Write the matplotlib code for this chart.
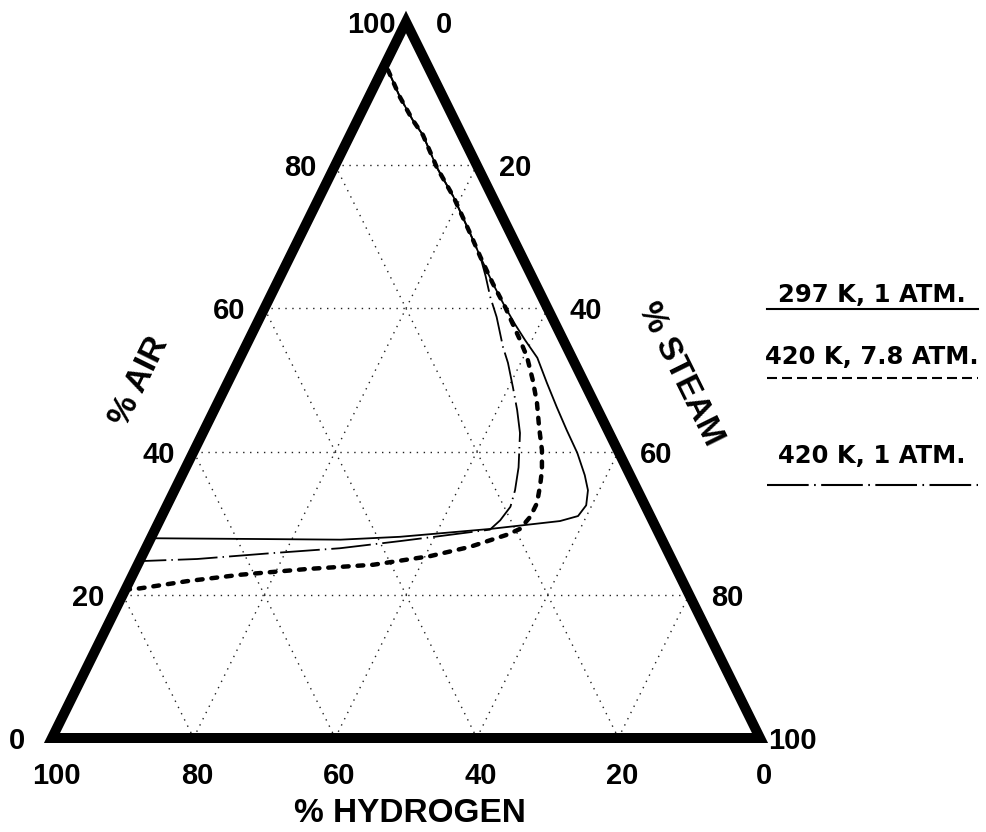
import matplotlib
matplotlib.use("Agg")
import matplotlib.pyplot as plt
from matplotlib.patches import Polygon
from matplotlib.transforms import Affine2D

# ---------------- data (ternary compositions, percent) ----------------
# 297 K, 1 ATM (solid)
solid_air = [93.3, 89.5, 86.3, 84.2, 79.7, 75.6, 70.5, 67.2, 63.5, 60.1, 57.7, 55.6,
             53.1, 49.6, 46.2, 43.0, 39.8, 36.7, 34.6, 32.5, 31.0, 30.3, 29.2, 28.1,
             27.7, 27.8, 27.9]
solid_steam = [0.8, 4.4, 7.8, 10.3, 14.5, 18.9, 23.8, 26.9, 30.5, 34.0, 36.6, 39.0,
               42.0, 45.1, 48.2, 51.2, 54.3, 56.9, 58.4, 59.2, 58.8, 56.6, 47.3, 35.1,
               26.9, 14.1, 0.0]

# 420 K, 7.8 ATM (heavy dashed)
dashed_air = [93.3, 89.5, 86.3, 84.2, 79.7, 75.6, 70.5, 67.2, 63.5, 60.1, 58.1, 55.6,
              53.2, 50.0, 46.8, 43.4, 40.2, 37.4, 35.3, 32.8, 30.9, 29.2, 28.4, 26.7,
              25.4, 24.2, 23.6, 22.8, 21.9, 20.9, 20.7]
dashed_steam = [0.8, 4.4, 7.8, 10.3, 14.5, 18.9, 23.8, 26.9, 30.5, 34.0, 35.9, 38.3,
                40.5, 42.9, 45.1, 47.1, 49.1, 50.5, 51.3, 52.1, 52.1, 51.5, 50.1, 45.7,
                40.7, 33.3, 24.2, 15.2, 8.1, 2.0, 0.0]

# 420 K, 1 ATM (dash-dot)
dashdot_air = [93.3, 89.5, 86.3, 84.2, 79.7, 75.6, 70.5, 67.2, 64.5, 61.6, 58.8, 54.6,
               52.4, 49.0, 45.8, 42.6, 37.8, 34.6, 32.3, 30.4, 29.1, 28.2, 27.5, 26.5,
               25.8, 25.0, 24.7]
dashdot_steam = [0.8, 4.4, 7.8, 10.3, 14.5, 18.9, 23.8, 26.9, 29.0, 31.1, 33.4, 36.4,
                 38.2, 40.6, 42.8, 44.8, 47.0, 48.1, 48.6, 48.1, 47.3, 40.7, 35.4, 27.4,
                 17.9, 8.0, 0.0]

grid_values = [20, 40, 60, 80]
air_ticks = [0, 20, 40, 60, 80, 100]
steam_ticks = [0, 20, 40, 60, 80, 100]
hydrogen_ticks = [100, 80, 60, 40, 20, 0]
legend_labels = ["297 K, 1 ATM.", "420 K, 7.8 ATM.", "420 K, 1 ATM."]

# ---------------- layout ----------------
W, H = 987, 832
XL, XR, XT = 52.0, 760.0, 406.0
YB, YT = 738.0, 22.0

fig = plt.figure(figsize=(W / 100, H / 100), dpi=100)
ax = fig.add_axes([0, 0, 1, 1])
ax.set_xlim(0, W)
ax.set_ylim(H, 0)
ax.axis("off")

# (steam %, air %) -> figure-like coordinates
tern = Affine2D([[(XR - XL) / 100, (XT - XL) / 100, XL],
                 [0, -(YB - YT) / 100, YB],
                 [0, 0, 1]]) + ax.transData

def edge_pt(s, a):
    return (XL + (XR - XL) * s / 100 + (XT - XL) * a / 100, YB - (YB - YT) * a / 100)

# grid
gkw = dict(color="#222222", lw=1.0, linestyle=(0, (1, 4)), transform=tern, zorder=1)
for v in grid_values:
    ax.plot([0, 100 - v], [v, v], **gkw)              # constant air
    ax.plot([v, v], [0, 100 - v], **gkw)              # constant steam
    ax.plot([0, 100 - v], [100 - v, 0], **gkw)        # constant hydrogen

# triangle frame
tri = Polygon([[0, 0], [100, 0], [0, 100]], closed=True, fill=False,
              edgecolor="black", lw=7.2, joinstyle="miter", transform=tern, zorder=5)
ax.add_patch(tri)

# curves
ax.plot(solid_steam, solid_air, color="black", lw=1.3, transform=tern, zorder=3,
        solid_joinstyle="round")
ax.plot(dashed_steam, dashed_air, color="black", lw=3.2, transform=tern, zorder=3,
        linestyle=(0, (1.3, 2.0)), dash_capstyle="round")
ax.plot(dashdot_steam, dashdot_air, color="black", lw=1.3, transform=tern, zorder=3,
        linestyle=(0, (22, 2.8, 0.8, 2.8)))

# tick labels
tick_font = dict(family="Liberation Sans", weight="bold", size=21)
for v in air_ticks:
    x, y = edge_pt(0, v)
    ax.text(x - 35, y + 11, str(v), ha="center", va="baseline", **tick_font)
for v in steam_ticks:
    x, y = edge_pt(v, 100 - v)
    off = 32 if v == 100 else 38
    ax.text(x + off, y + 11, str(v), ha="center", va="baseline", **tick_font)
for v in hydrogen_ticks:
    x, y = edge_pt(100 - v, 0)
    ax.text(x + 4, 784, str(v), ha="center", va="baseline", **tick_font)

# axis titles
title_font = dict(family="Liberation Sans", weight="bold", size=24)
ax.text(410, 822, "% HYDROGEN", ha="center", va="baseline",
        family="Liberation Sans", weight="bold", size=24)
ax.text(139, 382, "% AIR", ha="center", va="center", rotation=63.7,
        rotation_mode="anchor", **title_font)
ax.text(680, 374, "% STEAM", ha="center", va="center", rotation=-63.7,
        rotation_mode="anchor", **title_font)

# legend
leg_font = dict(family="DejaVu Sans", weight="bold", size=17.5)
leg_text_y = [302, 364, 463]
leg_line_y = [309, 378, 485]
styles = [dict(lw=1.5, linestyle="-"),
          dict(lw=1.5, linestyle=(0, (4.8, 2.4))),
          dict(lw=1.5, linestyle=(0, (20, 2.6, 0.8, 2.6)))]
for lab, ty, ly, st in zip(legend_labels, leg_text_y, leg_line_y, styles):
    ax.text(872, ty, lab, ha="center", va="baseline", **leg_font)
    ax.plot([767, 978], [ly, ly], color="black", **st)

fig.savefig("out.png", dpi=100)
